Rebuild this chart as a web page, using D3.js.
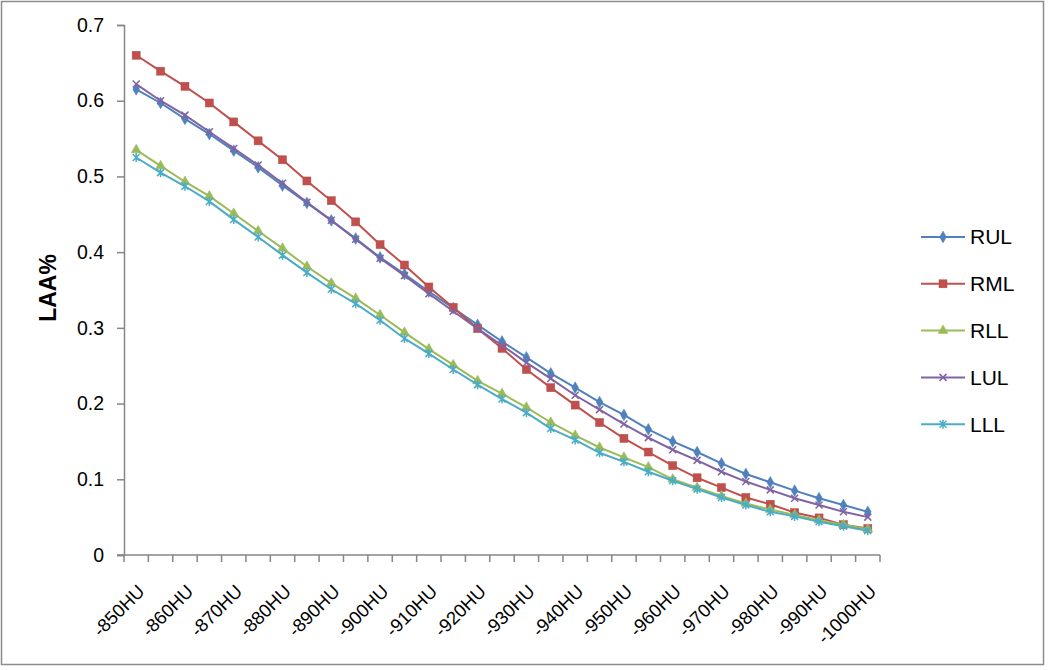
<!DOCTYPE html>
<html>
<head>
<meta charset="utf-8">
<script src="https://cdn.jsdelivr.net/npm/d3@7"></script>
<style>
  body { margin: 0; background: #fff; }
  svg { display: block; font-family: "Liberation Sans", Arial, sans-serif; }
</style>
</head>
<body>
<div id="chart"></div>
<script>
// Kategorien: -850HU bis -1000HU in 5er-Schritten
const categories = d3.range(-850, -1001, -5).map(d => d + 'HU');

// Werte je Lungenlappen
const rul = [0.615, 0.597, 0.576, 0.556, 0.534, 0.512, 0.488, 0.465, 0.442, 0.418, 0.393,
             0.371, 0.348, 0.326, 0.304, 0.282, 0.261, 0.240, 0.221, 0.202, 0.185,
             0.166, 0.150, 0.136, 0.121, 0.107, 0.096, 0.085, 0.075, 0.066, 0.057];
const rml = [0.660, 0.639, 0.619, 0.597, 0.572, 0.547, 0.522, 0.494, 0.468, 0.440, 0.410,
             0.383, 0.354, 0.327, 0.299, 0.273, 0.245, 0.221, 0.198, 0.175, 0.154,
             0.136, 0.118, 0.102, 0.089, 0.076, 0.067, 0.056, 0.049, 0.040, 0.035];
const rll = [0.535, 0.514, 0.493, 0.474, 0.451, 0.428, 0.405, 0.381, 0.359, 0.339, 0.317,
             0.294, 0.272, 0.251, 0.230, 0.213, 0.195, 0.175, 0.158, 0.142, 0.129,
             0.116, 0.100, 0.089, 0.078, 0.068, 0.060, 0.053, 0.046, 0.040, 0.034];
const lul = [0.622, 0.600, 0.581, 0.559, 0.537, 0.515, 0.491, 0.466, 0.442, 0.417, 0.392,
             0.369, 0.345, 0.322, 0.299, 0.277, 0.254, 0.233, 0.211, 0.192, 0.173,
             0.155, 0.139, 0.125, 0.110, 0.097, 0.086, 0.075, 0.066, 0.057, 0.050];
const lll = [0.525, 0.505, 0.487, 0.467, 0.443, 0.420, 0.396, 0.373, 0.351, 0.332, 0.310,
             0.286, 0.266, 0.245, 0.225, 0.206, 0.188, 0.167, 0.152, 0.135, 0.123,
             0.110, 0.098, 0.087, 0.076, 0.066, 0.057, 0.051, 0.044, 0.038, 0.032];

const seriesNames = ['RUL', 'RML', 'RLL', 'LUL', 'LLL'];
const seriesValues = [rul, rml, rll, lul, lll];
const yTicks = [0, 0.1, 0.2, 0.3, 0.4, 0.5, 0.6, 0.7];

const colors = ['#4F81BD', '#C0504D', '#9BBB59', '#8064A2', '#4BACC6'];
const markerType = ['diamond', 'square', 'triangle', 'x', 'star'];

const width = 1050, height = 670;
const plot = { left: 124, right: 880, top: 25, bottom: 555 };

const svg = d3.select('#chart').append('svg')
    .attr('width', width)
    .attr('height', height);

svg.append('rect')
    .attr('width', width).attr('height', height)
    .attr('fill', '#fff');

// Rahmen um das Diagramm
svg.append('rect')
    .attr('x', 1.5).attr('y', 1.5)
    .attr('width', 1042).attr('height', 663)
    .attr('fill', 'none')
    .attr('stroke', '#8c8c8c')
    .attr('stroke-width', 1.5);

const x = d3.scaleBand()
    .domain(categories)
    .range([plot.left, plot.right])
    .padding(0);

const y = d3.scaleLinear()
    .domain([0, 0.7])
    .range([plot.bottom, plot.top]);

const axisColor = '#868686';

// Y-Achse
const yAxis = svg.append('g')
    .attr('transform', `translate(${plot.left},0)`)
    .call(d3.axisLeft(y).tickValues(yTicks).tickSize(7).tickPadding(13)
        .tickFormat(d => d === 0 ? '0' : d3.format('.1f')(d)));
yAxis.select('.domain').attr('stroke', axisColor).attr('stroke-width', 1.5);
yAxis.selectAll('.tick line').attr('stroke', axisColor).attr('stroke-width', 1.5);
yAxis.selectAll('.tick text')
    .attr('fill', '#000')
    .style('font-size', '19.5px');

// X-Achse: Linie und Striche an den Kategoriegrenzen
const xAxis = svg.append('g');
xAxis.append('line')
    .attr('x1', plot.left - 7).attr('x2', plot.right)
    .attr('y1', plot.bottom).attr('y2', plot.bottom)
    .attr('stroke', axisColor).attr('stroke-width', 1.5);
const bounds = categories.map(c => x(c)).concat([x(categories[categories.length - 1]) + x.bandwidth()]);
xAxis.selectAll('.xtick')
    .data(bounds)
    .enter().append('line')
    .attr('class', 'xtick')
    .attr('x1', d => d).attr('x2', d => d)
    .attr('y1', plot.bottom).attr('y2', plot.bottom + 7)
    .attr('stroke', axisColor).attr('stroke-width', 1.5);

// Beschriftung jede zweite Kategorie, um 45° gedreht
xAxis.selectAll('.xlabel')
    .data(categories.filter((c, i) => i % 2 === 0))
    .enter().append('text')
    .attr('class', 'xlabel')
    .attr('transform', d => `translate(${x(d) + x.bandwidth() / 2 + 5},${plot.bottom + 33}) rotate(-45)`)
    .attr('text-anchor', 'end')
    .attr('dy', '0.35em')
    .style('font-size', '18.5px')
    .text(d => d);

// Y-Achsentitel
svg.append('text')
    .attr('transform', `translate(56,288) rotate(-90)`)
    .attr('text-anchor', 'middle')
    .style('font-size', '23px')
    .style('font-weight', 'bold')
    .text('LAA%');

// Marker zeichnen
function drawMarker(g, type, color) {
    if (type === 'diamond') {
        g.append('path').attr('d', d3.symbol(d3.symbolDiamond, 40)())
            .attr('fill', color).attr('stroke', color).attr('stroke-width', 0.5);
    } else if (type === 'square') {
        g.append('rect').attr('x', -4).attr('y', -4).attr('width', 8).attr('height', 8)
            .attr('fill', color).attr('stroke', '#b84a47').attr('stroke-width', 0.5);
    } else if (type === 'triangle') {
        g.append('path').attr('d', d3.symbol(d3.symbolTriangle, 42)())
            .attr('fill', color).attr('stroke', color).attr('stroke-width', 0.5);
    } else if (type === 'x') {
        g.append('path').attr('d', 'M-3.5,-3.5L3.5,3.5M-3.5,3.5L3.5,-3.5')
            .attr('fill', 'none').attr('stroke', color).attr('stroke-width', 1.5);
    } else if (type === 'star') {
        g.append('path').attr('d', 'M-3.5,-3.5L3.5,3.5M-3.5,3.5L3.5,-3.5M0,-4.5L0,4.5')
            .attr('fill', 'none').attr('stroke', color).attr('stroke-width', 1.5);
    }
}

const line = d3.line()
    .x((d, i) => x(categories[i]) + x.bandwidth() / 2)
    .y(d => y(d));

seriesValues.forEach((vals, s) => {
    const g = svg.append('g').attr('class', 'series');
    g.append('path')
        .datum(vals)
        .attr('d', line)
        .attr('fill', 'none')
        .attr('stroke', colors[s])
        .attr('stroke-width', 2);
    vals.forEach((v, i) => {
        const m = g.append('g')
            .attr('transform', `translate(${x(categories[i]) + x.bandwidth() / 2},${y(v)})`);
        drawMarker(m, markerType[s], colors[s]);
    });
});

// Legende
const legend = svg.append('g').attr('transform', 'translate(921,237)');
const legendItem = legend.selectAll('.legend-item')
    .data(seriesNames)
    .enter().append('g')
    .attr('class', 'legend-item')
    .attr('transform', (d, i) => `translate(0,${i * 46.8})`);

legendItem.append('line')
    .attr('x1', 0).attr('x2', 44)
    .attr('stroke', (d, i) => colors[i])
    .attr('stroke-width', 2);

legendItem.each(function(d, i) {
    const m = d3.select(this).append('g').attr('transform', 'translate(22,0)');
    drawMarker(m, markerType[i], colors[i]);
});

legendItem.append('text')
    .attr('x', 49)
    .attr('dy', '0.35em')
    .style('font-size', '21px')
    .text(d => d);
</script>
</body>
</html>
